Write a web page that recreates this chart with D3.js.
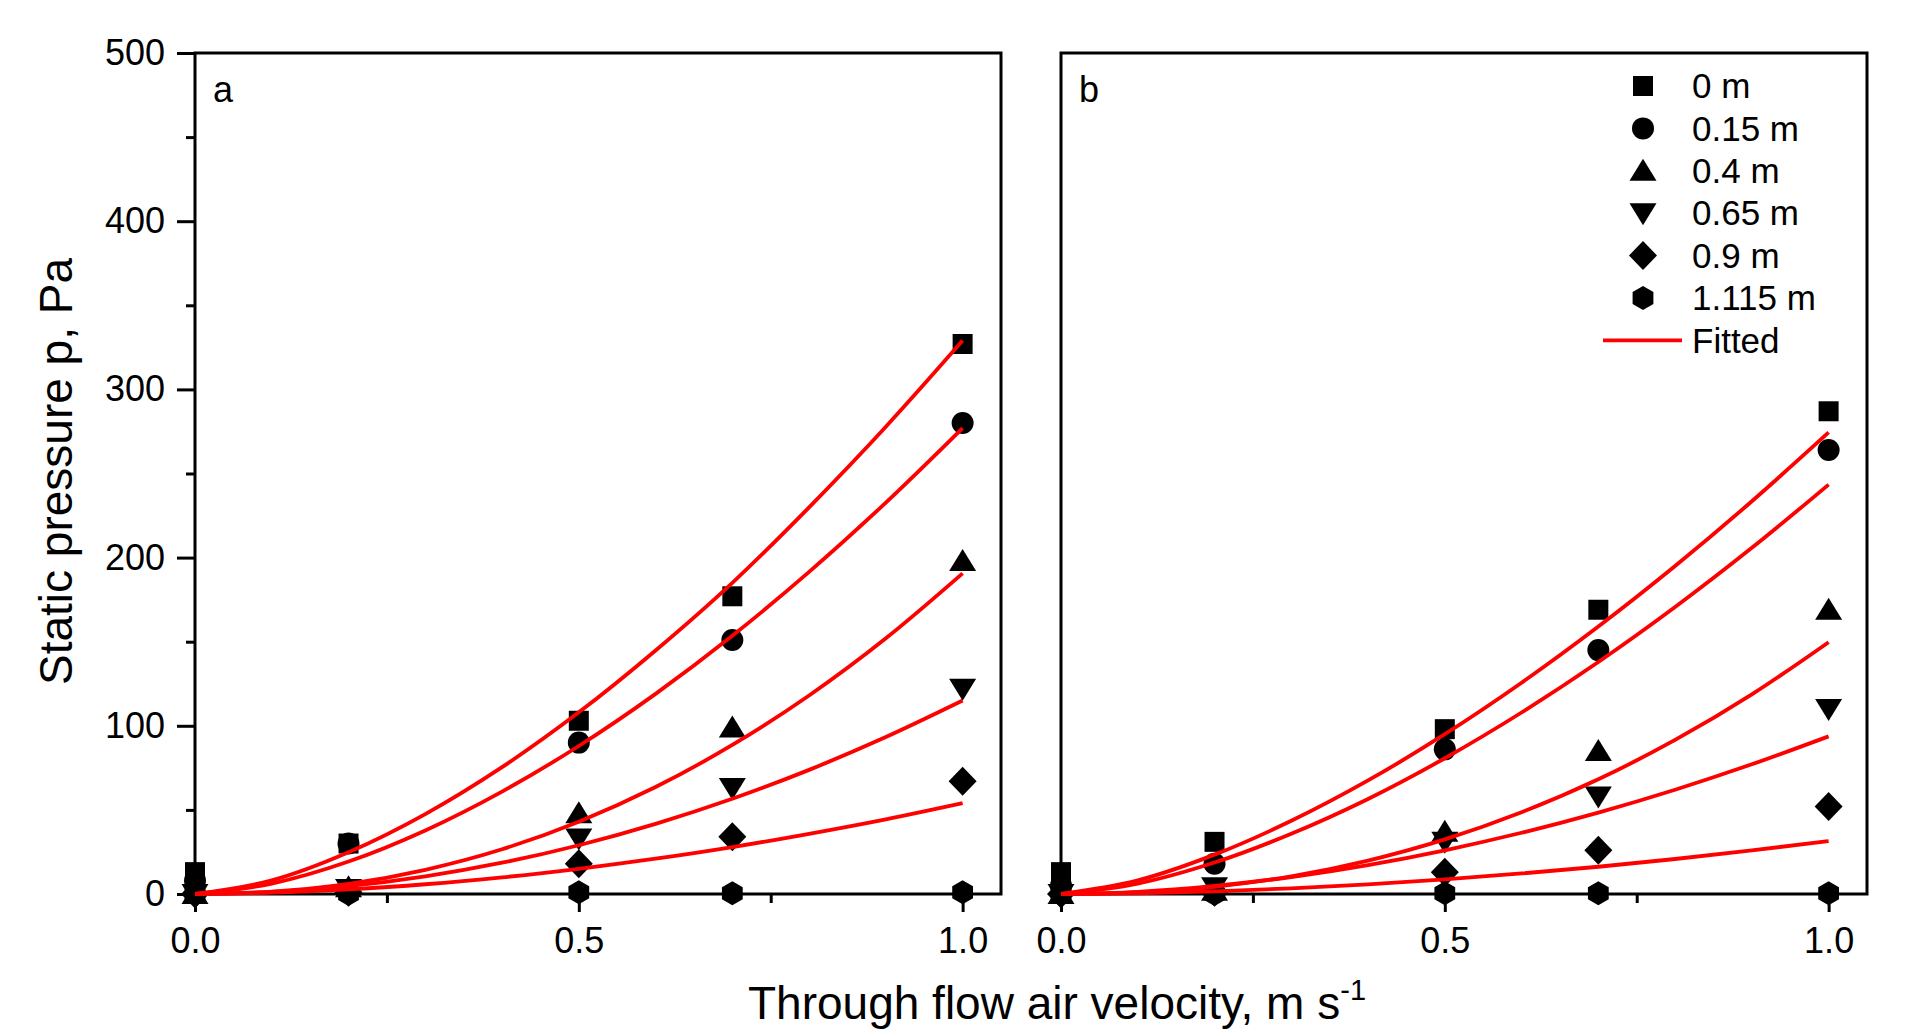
<!DOCTYPE html>
<html>
<head>
<meta charset="utf-8">
<title>Static pressure vs through flow air velocity</title>
<script src="https://cdn.jsdelivr.net/npm/d3@7"></script>
<style>
  body { margin: 0; background: #fff; }
  text { font-family: "Liberation Sans", Arial, sans-serif; fill: #000; }
</style>
</head>
<body>
<svg width="1907" height="1031" id="mainSvg"></svg>
<script>
// measured through-flow velocities, m/s
const velocity = [0, 0.2, 0.5, 0.7, 1.0];
const depths = ["0 m", "0.15 m", "0.4 m", "0.65 m", "0.9 m", "1.115 m"];
const shapes = ["square", "circle", "triangleUp", "triangleDown", "diamond", "hexagon"];

// static pressure, Pa - one row per depth (panel a)
const pressureA = [
  [13, 30, 103, 177, 327],
  [8, 30, 90, 151, 280],
  [0, 4, 48, 99, 198],
  [0, 3, 33, 63, 122],
  [0, 1, 18, 34, 67],
  [0, 0, 1, 0.5, 1]
];
// panel b
const pressureB = [
  [13, 31, 98, 169, 287],
  [5, 18, 86, 145, 264],
  [0, 2, 37, 85, 169],
  [0, 4, 31, 58, 110],
  [0, 1, 13, 26, 52],
  [0, 0, 0.5, 0.5, 0.5]
];

// fitted curves, every 0.1 m/s
const fitVelocity = [0, 0.1, 0.2, 0.3, 0.4, 0.5, 0.6, 0.7, 0.8, 0.9, 1.0];
const fitA = [
  [0, 8.1, 24.8, 47.5, 75.4, 108, 144.8, 185, 229.9, 277.8, 329],
  [0, 6.2, 19.3, 37.8, 60.9, 88, 119, 153.5, 191.5, 232.7, 277],
  [0, 1.4, 6.0, 14.4, 26.6, 43, 63.6, 88.6, 118, 152, 190.6],
  [0, 1.2, 4.7, 10.5, 18.6, 29, 41.7, 56.6, 73.8, 93.3, 115],
  [0, 0.8, 2.8, 5.8, 9.9, 15, 21, 27.9, 35.8, 44.4, 54]
];
const fitB = [
  [0, 8.1, 23.4, 43.5, 67.5, 95, 125.6, 159, 195, 233.5, 274.4],
  [0, 6.2, 18.7, 35.8, 56.5, 80.7, 107.9, 137.9, 170.6, 205.8, 243.4],
  [0, 0.9, 4.3, 10.5, 19.9, 32.5, 48.6, 68.2, 91.6, 118.7, 149.7],
  [0, 1.3, 4.8, 10.1, 17.2, 26, 36.4, 48.4, 62, 77.1, 93.7],
  [0, 0.4, 1.6, 3.4, 5.7, 8.7, 12.2, 16.2, 20.8, 25.9, 31.5]
];

const yTicks = [0, 100, 200, 300, 400, 500];
const yMinorTicks = [50, 150, 250, 350, 450];
const xTicks = [0, 0.5, 1.0];
const xMinorTicks = [0.25, 0.75];

const mainSvg = d3.select("#mainSvg");
const plotTop = 53, plotBottom = 894, panelW = 806;
const panels = [
  { left: 195, label: "a", data: pressureA, fit: fitA, yAxis: true, legend: false },
  { left: 1061, label: "b", data: pressureB, fit: fitB, yAxis: false, legend: true }
];

const y = d3.scaleLinear().domain([0, 500]).range([plotBottom, plotTop]);

// marker outlines, centred on 0,0
const markerPath = {
  square: "M-10,-10h20v20h-20Z",
  circle: "M-11,0a11,11 0 1,0 22,0a11,11 0 1,0 -22,0Z",
  triangleUp: "M0,-12L13.5,10L-13.5,10Z",
  triangleDown: "M0,12L13.5,-10L-13.5,-10Z",
  diamond: "M0,-14.5L14,0L0,14.5L-14,0Z",
  hexagon: "M0,-12L10.4,-6L10.4,6L0,12L-10.4,6L-10.4,-6Z"
};

panels.forEach(p => {
  const x = d3.scaleLinear().domain([0, 1.05]).range([p.left, p.left + panelW]);
  const g = mainSvg.append("g");

  // x axis: minor then major ticks
  g.append("g")
    .attr("transform", `translate(0,${plotBottom})`)
    .call(d3.axisBottom(x).tickValues(xMinorTicks).tickSize(9).tickFormat(""))
    .call(a => a.select(".domain").remove());
  g.append("g")
    .attr("transform", `translate(0,${plotBottom})`)
    .call(d3.axisBottom(x).tickValues(xTicks).tickSize(18).tickPadding(15).tickFormat(d3.format(".1f")))
    .call(a => a.select(".domain").remove())
    .call(a => a.selectAll("text").attr("font-size", 36).attr("font-family", null));

  if (p.yAxis) {
    g.append("g")
      .attr("transform", `translate(${p.left},0)`)
      .call(d3.axisLeft(y).tickValues(yMinorTicks).tickSize(9).tickFormat(""))
      .call(a => a.select(".domain").remove());
    g.append("g")
      .attr("transform", `translate(${p.left},0)`)
      .call(d3.axisLeft(y).tickValues(yTicks).tickSize(18).tickPadding(12))
      .call(a => a.select(".domain").remove())
      .call(a => a.selectAll("text").attr("font-size", 36).attr("font-family", null));
  }
  g.selectAll(".tick line").attr("stroke", "#000").attr("stroke-width", 3);

  // frame
  g.append("rect")
    .attr("x", p.left).attr("y", plotTop)
    .attr("width", panelW).attr("height", plotBottom - plotTop)
    .attr("fill", "none").attr("stroke", "#000").attr("stroke-width", 3);

  g.append("text")
    .attr("x", p.left + 18).attr("y", 102)
    .attr("font-size", 36)
    .text(p.label);

  // measured points
  p.data.forEach((row, i) => {
    g.append("g").selectAll("path")
      .data(row)
      .join("path")
      .attr("d", markerPath[shapes[i]])
      .attr("transform", (d, j) => `translate(${x(velocity[j])},${y(d)})`)
      .attr("fill", "#000");
  });

  // fitted curves
  const line = d3.line()
    .x((d, j) => x(fitVelocity[j]))
    .y(d => y(d))
    .curve(d3.curveMonotoneX);
  g.append("g").selectAll("path")
    .data(p.fit)
    .join("path")
    .attr("d", line)
    .attr("fill", "none")
    .attr("stroke", "#ff0000")
    .attr("stroke-width", 3.8);

  if (p.legend) {
    const lg = g.append("g").attr("transform", "translate(1643,86)");
    const rowH = 42.4;
    depths.forEach((name, i) => {
      lg.append("path")
        .attr("d", markerPath[shapes[i]])
        .attr("transform", `translate(0,${i * rowH})`)
        .attr("fill", "#000");
      lg.append("text")
        .attr("x", 49).attr("y", i * rowH).attr("dy", "0.35em")
        .attr("font-size", 35)
        .text(name);
    });
    const fy = depths.length * rowH;
    lg.append("line")
      .attr("x1", -40).attr("x2", 39).attr("y1", fy).attr("y2", fy)
      .attr("stroke", "#ff0000").attr("stroke-width", 3.8);
    lg.append("text")
      .attr("x", 49).attr("y", fy).attr("dy", "0.35em")
      .attr("font-size", 35)
      .text("Fitted");
  }
});

// axis titles
mainSvg.append("text")
  .attr("transform", `translate(72,${(plotTop + plotBottom) / 2 - 2}) rotate(-90)`)
  .attr("text-anchor", "middle")
  .attr("font-size", 46)
  .text("Static pressure p, Pa");

const xTitle = mainSvg.append("text")
  .attr("x", 1057).attr("y", 1019)
  .attr("text-anchor", "middle")
  .attr("font-size", 46)
  .text("Through flow air velocity, m s");
xTitle.append("tspan")
  .attr("dy", -19).attr("font-size", 29)
  .text("-1");
</script>
</body>
</html>
